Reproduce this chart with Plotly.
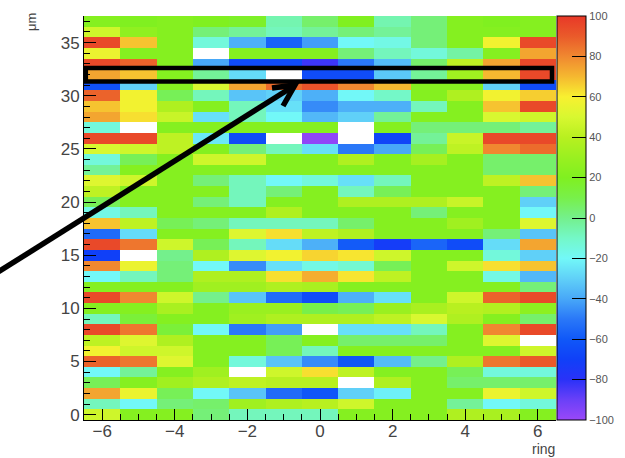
import plotly.graph_objects as go

# ---------------- data ----------------
rings = list(range(-6, 7))          # x categories (ring)
rows = list(range(38))              # y bins
# cell values, listed from the top row (y = 37) down to the bottom row (y = 0)
# None = empty / out-of-range bin (drawn white)
values_top_down = [
    [22, 20, 22, 20, 18, -6, 5, 20, -6, 3, 22, 20, 22],
    [47, 26, 22, 3, -2, -8, -2, 3, -2, 3, 22, 22, 22],
    [95, 68, 22, -14, -38, -57, -42, -20, -16, 3, 22, 58, 95],
    [56, 22, 22, None, 22, 22, 22, 3, -8, -14, -4, 22, 74],
    [95, 88, 22, -40, -65, -65, -83, -50, -35, 5, 42, 74, 95],
    [74, 68, 22, -2, -27, None, -65, -65, -32, -2, 32, 70, 95],
    [-63, -30, 22, 50, 74, 86, 92, 80, 70, 22, 22, -30, -65],
    [88, 58, 8, -8, -33, -30, -38, -20, -10, 22, 37, 58, 66],
    [68, 58, 37, 22, -8, -26, -46, -38, -38, -8, 22, 68, 95],
    [74, 63, 45, -26, -8, -20, -36, -30, -2, 22, 22, 50, 47],
    [-14, None, 22, 22, 22, 22, 22, None, 22, 3, 3, 3, -2],
    [95, 95, 42, -24, -65, None, -98, None, -68, -2, 45, 95, 95],
    [50, 47, 42, 22, 3, -8, -26, -50, -40, 8, 42, 80, 86],
    [-14, 8, 22, 47, 47, 22, 22, 37, 22, 34, 22, 5, 5],
    [-2, 22, 22, 22, 22, 22, 22, 22, 22, 22, 22, 5, 5],
    [52, 47, 22, 3, -8, -20, -14, -26, -8, 22, 22, 42, 68],
    [42, 22, 22, 22, -8, 3, 22, -8, 8, 22, 22, 22, 3],
    [8, 22, 22, 3, -8, 22, 22, 37, 37, 37, 45, 22, -30],
    [-16, -8, 22, 22, 22, 37, 22, 22, 22, 3, 22, 22, -20],
    [68, 42, 8, 3, -8, -8, -8, 5, 22, 22, 32, 22, 52],
    [-54, -27, 22, 22, 52, 63, 42, 37, 22, 22, 22, 3, -33],
    [95, 84, 47, 8, -8, -27, -38, -59, -72, -56, -65, -27, 74],
    [-70, None, 0, 37, 52, 58, 65, 62, 47, 22, 22, -14, -30],
    [80, 56, 3, -20, -46, -26, -16, -12, 8, 22, 47, 63, 68],
    [-20, -8, 3, 37, 37, 63, 72, 62, 42, 22, 22, -16, -36],
    [22, 22, 22, 32, 32, 37, 35, 22, 22, 22, 22, 22, 3],
    [95, 80, 47, 0, -33, -54, -65, -38, -26, 22, 47, 88, 95],
    [22, 22, 35, 22, 30, 30, 10, 8, 30, 35, 40, 38, 25],
    [-8, 14, 22, 22, 32, 37, 37, 37, 42, 50, 37, 22, 5],
    [95, 84, 14, -20, -50, -42, None, -26, -26, -8, 22, 80, 95],
    [42, 52, 37, 22, 22, 8, 22, 5, 5, 5, 22, 52, None],
    [58, 47, 47, 22, 22, 8, -8, 22, 22, 22, 22, 22, 47],
    [88, 84, 52, 22, -14, -33, -46, -61, -35, 0, 37, 84, 90],
    [-20, -2, 22, 32, None, 47, 63, 42, 22, 22, 8, -14, -14],
    [8, 22, 32, 37, 42, 40, 40, None, 37, 22, 5, 5, 5],
    [74, 56, 8, -20, -33, -54, -61, -30, -22, 22, 22, 56, 47],
    [-8, -20, 3, 5, 32, 37, 40, 47, 22, 22, -2, -20, -14],
    [47, 22, 22, 3, -8, -8, -8, 22, 22, 22, 37, 35, 22],
]
z_min, z_max = -100, 100
colorbar_ticks = list(range(-100, 101, 20))
x_ticks = [-6, -4, -2, 0, 2, 4, 6]
y_ticks = [0, 5, 10, 15, 20, 25, 30, 35]
highlight_row = 32
x_title = "ring"
y_title = "μm"

z = values_top_down[::-1]   # index = y bin

# ROOT-like rainbow palette as it appears in the picture
palette = [
    [0.00, "#9a48f8"], [0.05, "#6a40f8"], [0.10, "#2a32f8"], [0.15, "#1040f8"],
    [0.20, "#1058f8"], [0.25, "#2a78f8"], [0.30, "#48a8f8"], [0.35, "#60d0f8"],
    [0.40, "#72f8f8"], [0.45, "#74f8c8"], [0.50, "#74f08c"], [0.55, "#78f04a"],
    [0.60, "#80f020"], [0.65, "#9af020"], [0.70, "#b8f020"], [0.75, "#d8f830"],
    [0.80, "#f8f030"], [0.85, "#f5b830"], [0.90, "#f08830"], [0.95, "#ea5a2a"],
    [1.00, "#e83828"],
]

FONT = "Liberation Sans, Arial, Helvetica, sans-serif"
W, H = 625, 458
L, R, T, B = 84, 69, 16, 38
pw, ph = W - L - R, H - T - B


def px(xp):
    return (xp - L) / pw


def py(yp):
    return (H - B - yp) / ph


fig = go.Figure(
    go.Heatmap(
        x=rings, y=rows, z=z, zmin=z_min, zmax=z_max,
        colorscale=palette, zsmooth=False, hoverongaps=False,
        colorbar=dict(
            x=px(557), xanchor="left", y=0.5, yanchor="middle", len=1.0,
            lenmode="fraction", thickness=29, thicknessmode="pixels",
            xpad=0, ypad=0, outlinewidth=1, outlinecolor="black",
            tickvals=colorbar_ticks, ticks="inside", ticklen=14,
            tickcolor="black", tickwidth=1,
            tickfont=dict(family=FONT, size=11, color="#555"),
        ),
    )
)

# highlight box around one row
fig.add_shape(type="rect", xref="x", yref="y",
              x0=rings[0] - 0.45, x1=rings[-1] + 0.39,
              y0=highlight_row - 0.67, y1=highlight_row + 0.6,
              line=dict(color="black", width=4.5), fillcolor="rgba(0,0,0,0)")

# arrow pointing at the box
tip = (295, 85)
start = (-5, 274)
fig.add_shape(type="line", xref="paper", yref="paper",
              x0=px(start[0]), y0=py(start[1]), x1=px(tip[0] - 2), y1=py(tip[1] + 1.5),
              line=dict(color="black", width=5.5))
fig.add_shape(type="path", xref="paper", yref="paper",
              path=f"M {px(272)},{py(88)} L {px(tip[0])},{py(tip[1])} L {px(283)},{py(106)}",
              line=dict(color="black", width=5.5))

fig.add_annotation(text=x_title, xref="paper", yref="paper", x=px(557), y=py(459),
                   xanchor="right", yanchor="bottom", showarrow=False,
                   font=dict(family=FONT, size=14, color="#444"))
fig.add_annotation(text=y_title, xref="paper", yref="paper", x=px(31), y=py(11),
                   xanchor="center", yanchor="top", textangle=-90, showarrow=False,
                   font=dict(family=FONT, size=13, color="#444"))

fig.update_xaxes(range=[-6.5, 6.5], tickvals=x_ticks, ticks="inside", ticklen=11,
                 tickcolor="black", tickwidth=1.3, showline=True, linecolor="black",
                 linewidth=1, showgrid=False, zeroline=False, ticklabelstandoff=-4,
                 minor=dict(dtick=0.5, tick0=0, ticks="inside", ticklen=6,
                            tickcolor="black", tickwidth=1.3),
                 tickfont=dict(family=FONT, size=17, color="#444"))
fig.update_yaxes(range=[-0.5, 37.5], tickvals=y_ticks, ticks="inside", ticklen=12,
                 tickcolor="black", tickwidth=1.3, showline=True, linecolor="black",
                 linewidth=1, showgrid=False, zeroline=False,
                 minor=dict(dtick=1, tick0=0, ticks="inside", ticklen=6,
                            tickcolor="black", tickwidth=1.3),
                 tickfont=dict(family=FONT, size=17, color="#444"))

fig.update_layout(width=W, height=H,
                  margin=dict(l=L, r=R, t=T, b=B, autoexpand=False),
                  paper_bgcolor="white", plot_bgcolor="white", showlegend=False)

fig.write_html("out.html")
